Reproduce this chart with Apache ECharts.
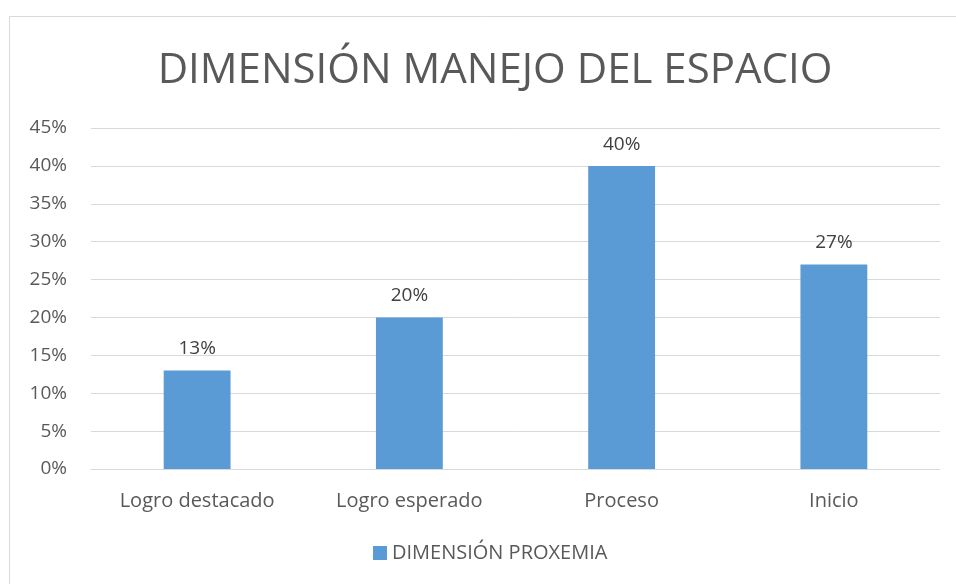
<!DOCTYPE html>
<html>
<head>
<meta charset="utf-8">
<script src="https://cdn.jsdelivr.net/npm/echarts@6/dist/echarts.min.js"></script>
<style>
  html, body { margin: 0; padding: 0; background: #fff; }
  #chart { width: 956px; height: 584px; }
</style>
</head>
<body>
<div id="chart"></div>
<script>
// categorias y valores (porcentaje)
var categories = ["Logro destacado", "Logro esperado", "Proceso", "Inicio"];
var proxemia = [13, 20, 40, 27];
var seriesName = "DIMENSIÓN PROXEMIA";
var titleText = "DIMENSIÓN MANEJO DEL ESPACIO";

var fontName = "Open Sans";
var textColor = "#595959";

var option = {
  animation: false,
  backgroundColor: "#fff",
  graphic: [
    {
      type: "rect",
      shape: { x: 9.5, y: 16.5, width: 1000, height: 1000 },
      style: { fill: "none", stroke: "#d9d9d9", lineWidth: 1 }
    }
  ],
  title: {
    text: titleText,
    left: 490,
    textAlign: "center",
    top: 45,
    textStyle: {
      fontFamily: fontName,
      fontWeight: "normal",
      fontSize: 42,
      color: textColor
    }
  },
  legend: {
    data: [seriesName],
    bottom: 16,
    left: 368,
    itemWidth: 14,
    itemHeight: 14,
    itemGap: 6,
    icon: "rect",
    textStyle: {
      fontFamily: fontName,
      fontSize: 20,
      color: textColor
    }
  },
  grid: {
    left: 91,
    right: 16,
    top: 128,
    bottom: 115,
    containLabel: false
  },
  xAxis: {
    type: "category",
    data: categories,
    axisTick: { show: false },
    axisLine: { lineStyle: { color: "#d9d9d9", width: 1 } },
    axisLabel: {
      margin: 22,
      fontFamily: fontName,
      fontSize: 20,
      color: textColor
    }
  },
  yAxis: {
    type: "value",
    min: 0,
    max: 45,
    interval: 5,
    axisLine: { show: false },
    axisTick: { show: false },
    axisLabel: {
      formatter: "{value}%",
      margin: 24,
      fontFamily: fontName,
      fontSize: 19,
      color: textColor
    },
    splitLine: { lineStyle: { color: "#d9d9d9", width: 1 } }
  },
  series: [
    {
      name: seriesName,
      type: "bar",
      data: proxemia,
      barWidth: "31.5%",
      itemStyle: { color: "#5b9bd5" },
      label: {
        show: true,
        position: "top",
        distance: 12,
        formatter: "{c}%",
        fontFamily: fontName,
        fontSize: 19,
        color: "#404040"
      }
    }
  ]
};

var chart = echarts.init(document.getElementById("chart"));
chart.setOption(option);
</script>
</body>
</html>
